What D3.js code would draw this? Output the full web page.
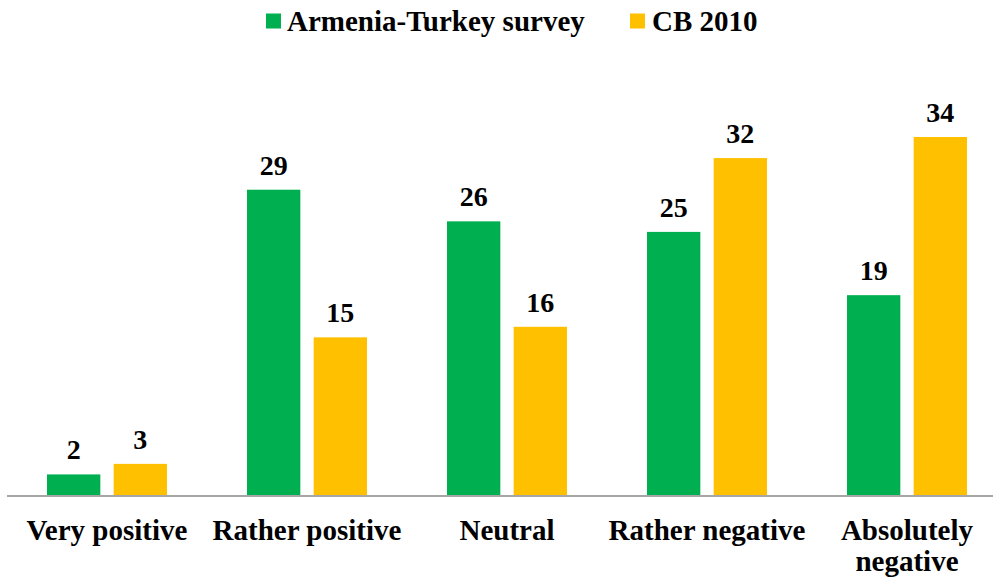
<!DOCTYPE html>
<html><head><meta charset="utf-8">
<script src="https://cdn.jsdelivr.net/npm/d3@7"></script>
<style>body{margin:0;background:#fff}svg{display:block}
text{font-family:"Liberation Serif","Times New Roman",Times,"Nimbus Roman","DejaVu Serif",serif;font-weight:bold;}</style>
</head><body>
<script>
const categories = ["Very positive","Rather positive","Neutral","Rather negative","Absolutely negative"];
const seriesNames = ["Armenia-Turkey survey","CB 2010"];
const armeniaTurkey = [2,29,26,25,19];
const cb2010 = [3,15,16,32,34];
const colors = ["#00b050","#ffc000"];

const W=993,H=581;
const svg=d3.select("body").append("svg").attr("width",W).attr("height",H);
const x0=d3.scaleBand().domain(categories).range([7,1007]).paddingInner(0).paddingOuter(0);
const y=d3.scaleLinear().domain([0,34]).range([495.5,137]);
const x1=d3.scaleBand().domain(seriesNames).range([40,160]).paddingInner(0.2);
const series=[armeniaTurkey,cb2010];

categories.forEach((c,i)=>{
  series.forEach((s,j)=>{
    const xb=x0(c)+x1(seriesNames[j]);
    svg.append("rect").attr("x",xb).attr("y",y(s[i])).attr("width",x1.bandwidth()).attr("height",y(0)-y(s[i])).attr("fill",colors[j]);
    svg.append("text").attr("x",xb+x1.bandwidth()/2).attr("y",y(s[i])-15).attr("text-anchor","middle")
      .attr("font-size",28).text(s[i]);
  });
});
svg.append("line").attr("x1",7).attr("x2",W).attr("y1",y(0)+0.5).attr("y2",y(0)+0.5).attr("stroke","#a6a6a6").attr("stroke-width",2);

categories.forEach(c=>{
  const cx=x0(c)+x0.bandwidth()/2;
  const words = c==="Absolutely negative" ? ["Absolutely","negative"] : [c];
  words.forEach((w,k)=>{
    svg.append("text").attr("x",cx).attr("y",540+k*31).attr("text-anchor","middle")
      .attr("font-size",29).text(w);
  });
});

// legend
const leg=[{x:266,tx:287},{x:630,tx:652}];
seriesNames.forEach((n,j)=>{
  svg.append("rect").attr("x",leg[j].x).attr("y",13.5).attr("width",15).attr("height",15).attr("fill",colors[j]);
  svg.append("text").attr("x",leg[j].tx).attr("y",31).attr("font-size",29).text(n);
});
</script>
</body></html>
